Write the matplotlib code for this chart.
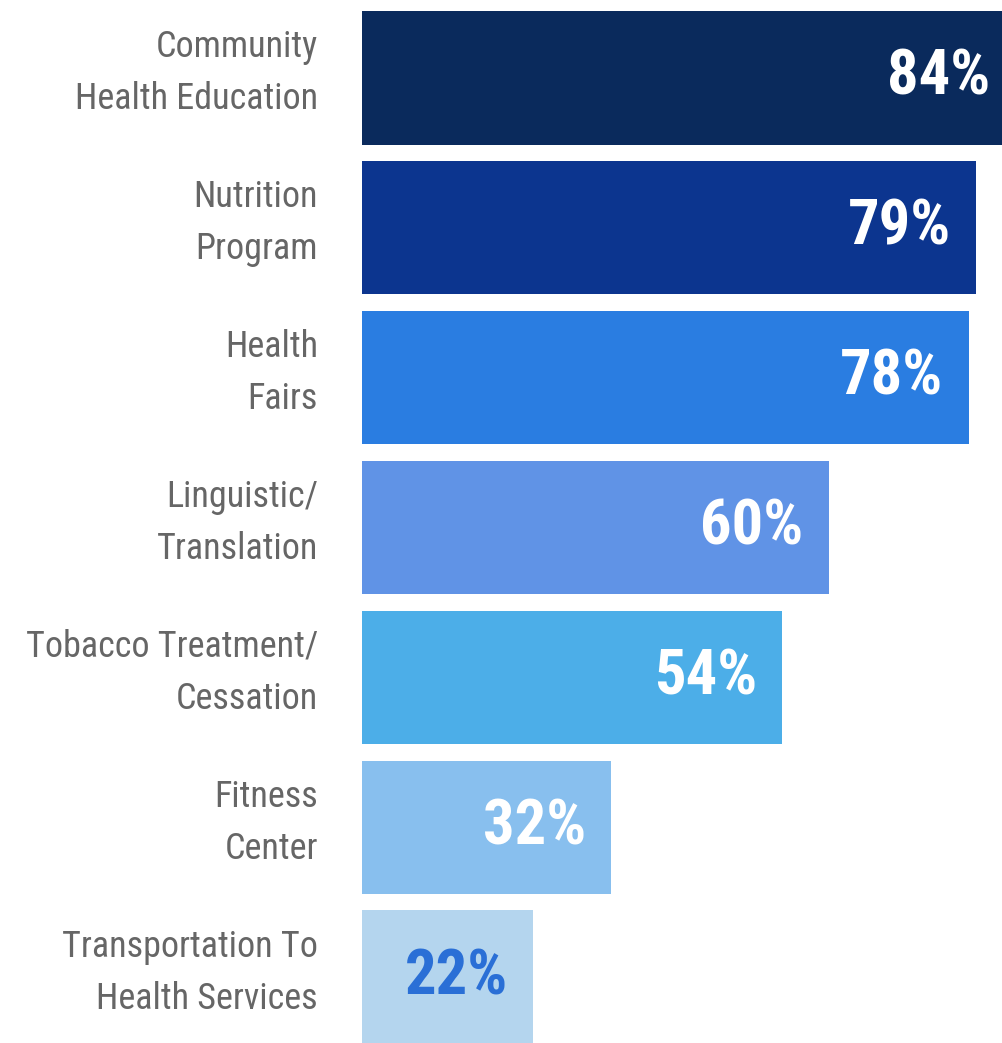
import matplotlib
matplotlib.use("Agg")
import matplotlib.pyplot as plt
from matplotlib import font_manager

categories = [
    "Community\nHealth Education",
    "Nutrition\nProgram",
    "Health\nFairs",
    "Linguistic/\nTranslation",
    "Tobacco Treatment/\nCessation",
    "Fitness\nCenter",
    "Transportation To\nHealth Services",
]
values = [84, 79, 78, 60, 54, 32, 22]
bar_colors = ["#0a2a5c", "#0c358f", "#2a7de1", "#6093e6", "#4caee8", "#88bfee", "#b4d5ee"]
value_colors = ["white", "white", "white", "white", "white", "white", "#2a6fd6"]

# pick a narrow face if the system has one
installed = {f.name for f in font_manager.fontManager.ttflist}
narrow = [n for n in ["Roboto Condensed", "Liberation Sans Narrow", "Open Sans Condensed"] if n in installed]
if narrow:
    face = narrow[0]
    label_size, value_size = 26, 45
else:
    face = "Liberation Sans"
    label_size, value_size = 21, 36

fig = plt.figure(figsize=(10.02, 10.43), dpi=100)
ax = fig.add_axes([362 / 1002, 0, 640 / 1002, 1])

ypos = range(len(values))
ax.barh(ypos, values, height=0.893, color=bar_colors, left=0)
ax.set_xlim(0, 82.3)
ax.set_ylim(6.437, -0.517)
ax.axis("off")

for y, v, lab, vc in zip(ypos, values, categories, value_colors):
    ax.text(-44 / 640, y - 0.03, lab, transform=ax.get_yaxis_transform(), ha="right", va="center",
            fontsize=label_size, family=face, color="#666666", linespacing=1.6)
    ax.annotate(f"{v}%", (v, y), xytext=(-25, 0), textcoords="offset pixels",
                ha="right", va="center", fontsize=value_size, fontweight="bold",
                family=face, color=vc, annotation_clip=False)

fig.savefig("out.png", dpi=100)
